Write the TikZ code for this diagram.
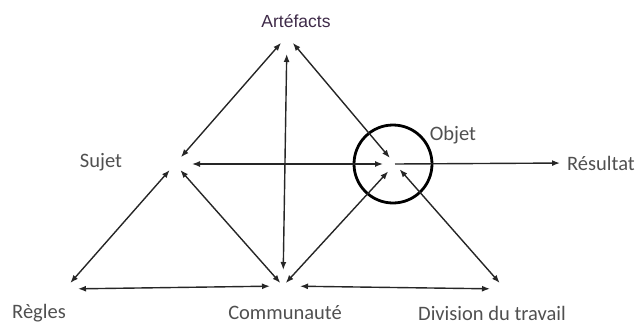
\documentclass[tikz,border=0pt]{standalone}
\usepackage{fontspec}
\setmainfont{Carlito}
\newfontfamily\arialfont{Liberation Sans}
\usetikzlibrary{arrows.meta}
\definecolor{labelgray}{RGB}{80,80,80}
\definecolor{artcolor}{RGB}{62,42,72}
\begin{document}
\begin{tikzpicture}[x=1pt,y=-1pt]

\tikzset{link/.style={draw=black!85, line width=1.4pt, {Latex[length=8pt,width=6pt]}-{Latex[length=8pt,width=6pt]}}}
\tikzset{onelink/.style={draw=black!85, line width=1.4pt, -{Latex[length=8pt,width=6pt]}}}
\tikzset{mylabel/.style={text=labelgray, font=\fontsize{20.5}{23}\selectfont, inner sep=0pt}}

\useasboundingbox (0,0) rectangle (638,327);

% corners of the triangle
\coordinate (art) at (287,36);
\coordinate (suj) at (175,164);
\coordinate (obj) at (395,164);
\coordinate (com) at (283,286);
\coordinate (reg) at (65,289);
\coordinate (div) at (505,289);

% labels
\node[mylabel, text=artcolor, font=\arialfont\fontsize{17.5}{20}\selectfont] (artlabel) at (296,21) {Artéfacts};
\node[mylabel] (sujlabel) at (101,162) {Sujet};
\node[mylabel] (objlabel) at (453,135) {Objet};
\node[mylabel] (res) at (601,163) {Résultat};
\node[mylabel] (reglabel) at (39,313) {Règles};
\node[mylabel] (comlabel) at (285,313) {Communauté};
\node[mylabel] (divlabel) at (492,313) {Division du travail};

% object circle
\node[draw=black, line width=2.8pt, circle, minimum size=78pt, inner sep=0pt] (ring) at (393,164) {};

% upper triangle
\draw[link, shorten <=9pt, shorten >=9pt] (art) -- (suj);
\draw[link, shorten <=9pt, shorten >=8pt] (art) -- (obj);
\draw[link, shorten <=18pt, shorten >=16pt] (art) -- (com);
\draw[link, shorten <=17pt, shorten >=12pt] (suj) -- (obj);

% lower triangle
\draw[link, shorten <=8pt, shorten >=8pt] (suj) -- (reg);
\draw[link, shorten <=8pt, shorten >=4pt] (suj) -- (com);
\draw[link, shorten <=10pt, shorten >=4pt] (obj) -- (com);
\draw[link, shorten <=7pt, shorten >=8pt] (obj) -- (div);
\draw[link, shorten <=13pt, shorten >=13pt] (reg) -- (com);
\draw[link, shorten <=17pt, shorten >=15pt] (com) -- (div);

% outcome
\draw[onelink, shorten >=7pt] (obj) -- (res.west);

\end{tikzpicture}
\end{document}
